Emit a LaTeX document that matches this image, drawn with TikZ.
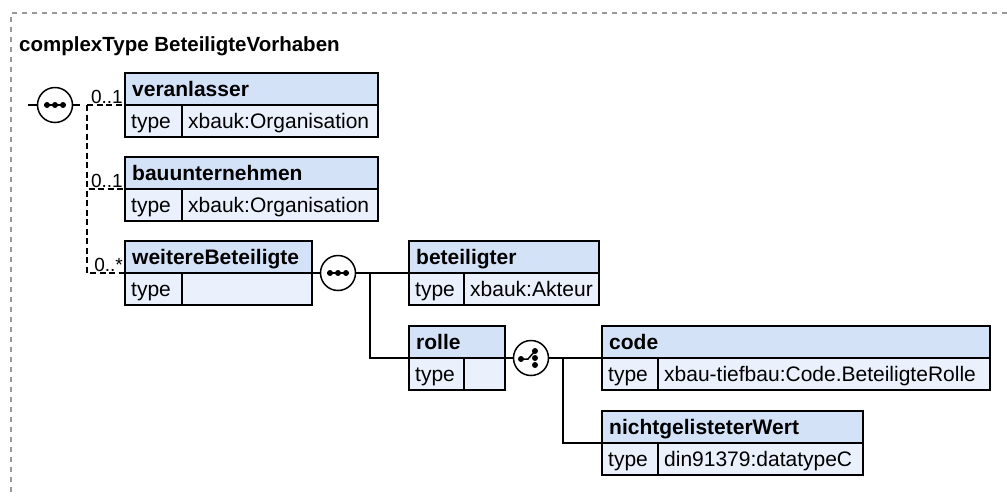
\documentclass[tikz,border=0pt]{standalone}
\usepackage{fontspec}
\setmainfont{Liberation Sans}
\definecolor{hdrblue}{HTML}{D4E2F8}
\definecolor{rowblue}{HTML}{EAF1FC}
\definecolor{framegray}{HTML}{999999}
\newcommand\elembox[8]{%
  \node[hdr, minimum width=#4pt] (#1) at (#2,#3) {};
  \node[btxt] (#1-name) at ([xshift=7pt,yshift=-7.5pt]#1.west) {#7};
  \node[trow, minimum width=#5pt] (#1-t) at (#1.south west) {};
  \node[ntxt] (#1-tl) at ([xshift=6pt,yshift=-7.5pt]#1-t.west) {type};
  \node[trow, minimum width=#6pt] (#1-v) at (#1-t.north east) {};
  \node[ntxt] (#1-vl) at ([xshift=6pt,yshift=-7.5pt]#1-v.west) {#8};
}
\begin{document}
\begin{tikzpicture}[x=1pt,y=-1pt,
  cell/.style={draw=black, line width=1.5pt, inner sep=0pt, outer sep=0pt, minimum height=32pt, anchor=north west},
  hdr/.style={cell, fill=hdrblue},
  trow/.style={cell, fill=rowblue},
  btxt/.style={font=\fontsize{21}{25}\selectfont\bfseries, inner sep=0pt, anchor=base west},
  ntxt/.style={font=\fontsize{21}{25}\selectfont, inner sep=0pt, anchor=base west},
  titletxt/.style={font=\fontsize{20.5}{24}\selectfont\bfseries, inner sep=0pt, anchor=base west},
  mult/.style={font=\fontsize{19}{22}\selectfont, inner sep=0pt, anchor=base east},
  comp/.style={circle, draw=black, line width=1.5pt, fill=white, minimum size=35pt, inner sep=0pt, outer sep=0pt},
  conn/.style={draw=black, line width=1.5pt},
  opt/.style={draw=black, line width=1.5pt, dash pattern=on 6pt off 3.5pt},
  frameline/.style={draw=framegray, line width=1.1pt, dash pattern=on 5pt off 5pt},
]
\useasboundingbox (0,0) rectangle (1007,496);
\draw[frameline] (1007,13) -- (11,13) -- (11,496);
\node[titletxt] (title) at (19,51) {complexType BeteiligteVorhaben};

% element boxes
\elembox{ver}{125}{73}{253}{57}{196}{veranlasser}{xbauk:Organisation}
\elembox{bau}{125}{157}{253}{57}{196}{bauunternehmen}{xbauk:Organisation}
\elembox{wei}{125}{241}{187}{57}{130}{weitereBeteiligte}{}
\elembox{bet}{409}{241}{190}{55}{135}{beteiligter}{xbauk:Akteur}
\elembox{rol}{409}{326}{96}{55}{41}{rolle}{}
\elembox{code}{602}{326}{388}{56}{332}{code}{xbau-tiefbau:Code.BeteiligteRolle}
\elembox{nicht}{602}{411}{261}{56}{205}{nichtgelisteterWert}{din91379:datatypeC}

% compositors
\node[comp] (s1) at (55,105) {};
\node[comp] (s2) at (338,273) {};
\node[comp] (c1) at (531,358) {};

% sequence icons
\foreach \s in {s1,s2}{
  \begin{scope}[shift={(\s.center)}]
    \draw[line width=1.5pt] (-11,0) -- (11,0);
    \fill (-8,0) circle (3pt) (0,0) circle (3pt) (8,0) circle (3pt);
  \end{scope}
}
% choice icon
\begin{scope}[shift={(c1.center)}]
  \draw[line width=1.5pt] (-10,1) -- (-3,1) -- (4,-7);
  \fill (-10,1) circle (3pt) (4,-7) circle (3pt) (4,0) circle (3pt) (4,7) circle (3pt);
\end{scope}

% connectors
\coordinate (s1in) at (28,105);
\coordinate (s1out) at (80,105);
\coordinate (f1) at (87,105);
\coordinate (f2) at (370,273);
\coordinate (f3) at (563,358);
\draw[conn] (s1in) -- (s1.west);
\draw[conn] (s1.east) -- (s1out);
\draw[opt] (f1) -- (ver.south west);
\draw[opt] (f1) |- (bau.south west);
\draw[opt] (f1) |- (wei.south west);
\node[mult] (m1) at ([xshift=-2pt,yshift=2pt]ver.south west) {0..1};
\node[mult] (m2) at ([xshift=-2pt,yshift=2pt]bau.south west) {0..1};
\node[mult] (m3) at ([xshift=-2pt,yshift=2pt]wei.south west) {0..*};

\draw[conn] (wei.south east) -- (s2.west);
\draw[conn] (s2.east) -- (f2) -- (bet.south west);
\draw[conn] (f2) |- (rol.south west);
\draw[conn] (rol.south east) -- (c1.west);
\draw[conn] (c1.east) -- (f3) -- (code.south west);
\draw[conn] (f3) |- (nicht.south west);
\end{tikzpicture}
\end{document}
